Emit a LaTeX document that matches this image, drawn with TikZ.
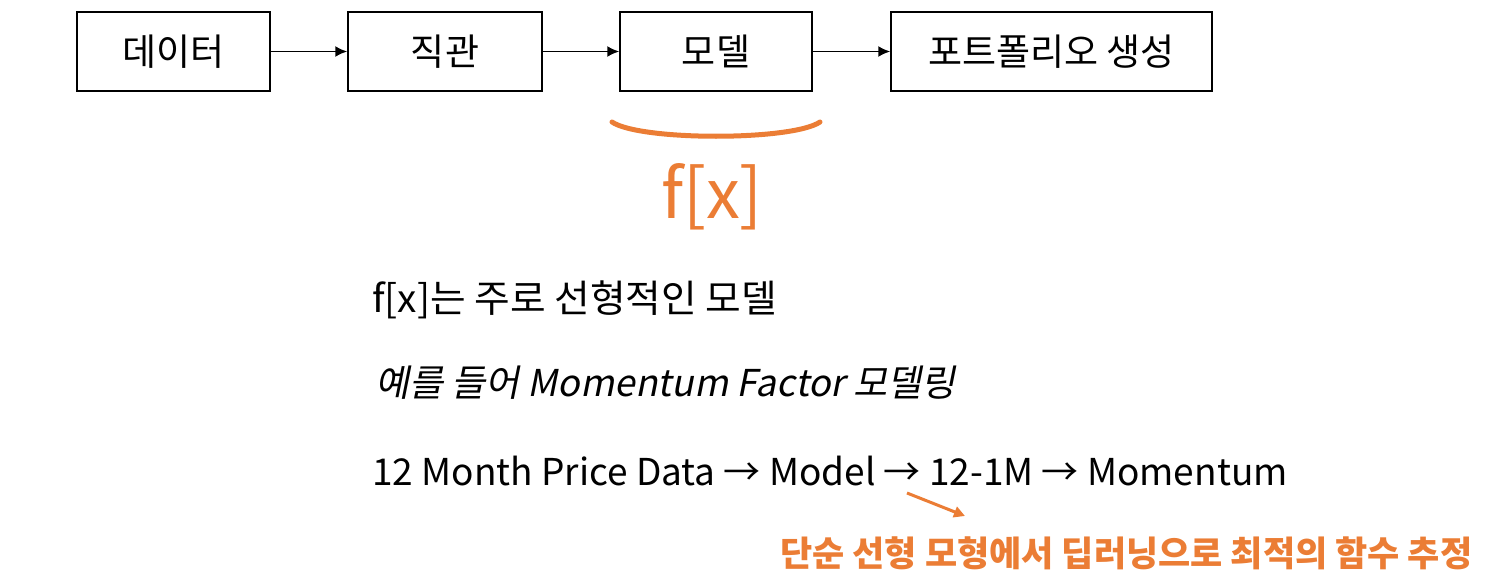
\documentclass[tikz,border=0pt]{standalone}
\usepackage{fontspec}
\setmainfont{Noto Sans CJK KR}
\newfontfamily\krit[FakeSlant=0.2]{Noto Sans CJK KR}
\usetikzlibrary{arrows.meta}
\definecolor{accent}{HTML}{EB7D35}
\tikzset{
  box/.style={draw=black, line width=1.5pt, minimum height=79pt, inner sep=0pt,
    font=\fontsize{37}{40}\selectfont},
  flow/.style={line width=1.8pt, -{Latex[length=12pt,width=11pt]}},
  line/.style={anchor=west, inner sep=0pt},
}
\begin{document}
\begin{tikzpicture}[x=1pt,y=-1pt]
\useasboundingbox (0,0) rectangle (1488,578);
\node[box, minimum width=193pt] (d) at (173.5,51.5) {데이터};
\node[box, minimum width=194pt] (j) at (445,51.5) {직관};
\node[box, minimum width=192pt] (m) at (716,51.5) {모델};
\node[box, minimum width=321pt] (p) at (1051.5,51.5) {포트폴리오 생성};
\draw[flow] (d) -- (j);
\draw[flow] (j) -- (m);
\draw[flow] (m) -- (p);
\coordinate (bl) at (612,122);
\coordinate (br) at (820,122);
\draw[accent, line width=5pt, line cap=round] (bl) .. controls (640,141) and (792,141) .. (br);
\node[text=accent, font=\fontsize{68}{72}\selectfont, inner sep=0pt] (fx) at (712,197) {f[x]};
\node[line, font=\fontsize{38}{42}\selectfont, xscale=1.02] (l1) at (372,300) {f[x]는 주로 선형적인 모델};
\node[line, font=\fontsize{37}{42}\krit] (l2) at (375,383) {예를 들어 Momentum Factor 모델링};
\node[line, font=\fontsize{37}{42}\selectfont] (l3) at (372,471) {12 Month Price Data → Model → 12-1M → Momentum};
\coordinate (as) at (907,493);
\coordinate (ae) at (965,516);
\draw[accent, line width=3pt, -{Triangle[length=11pt,width=11pt]}] (as) -- (ae);
\node[line, text=accent, font=\fontsize{35}{40}\bfseries] (note) at (780,553) {단순 선형 모형에서 딥러닝으로 최적의 함수 추정};
\end{tikzpicture}
\end{document}
